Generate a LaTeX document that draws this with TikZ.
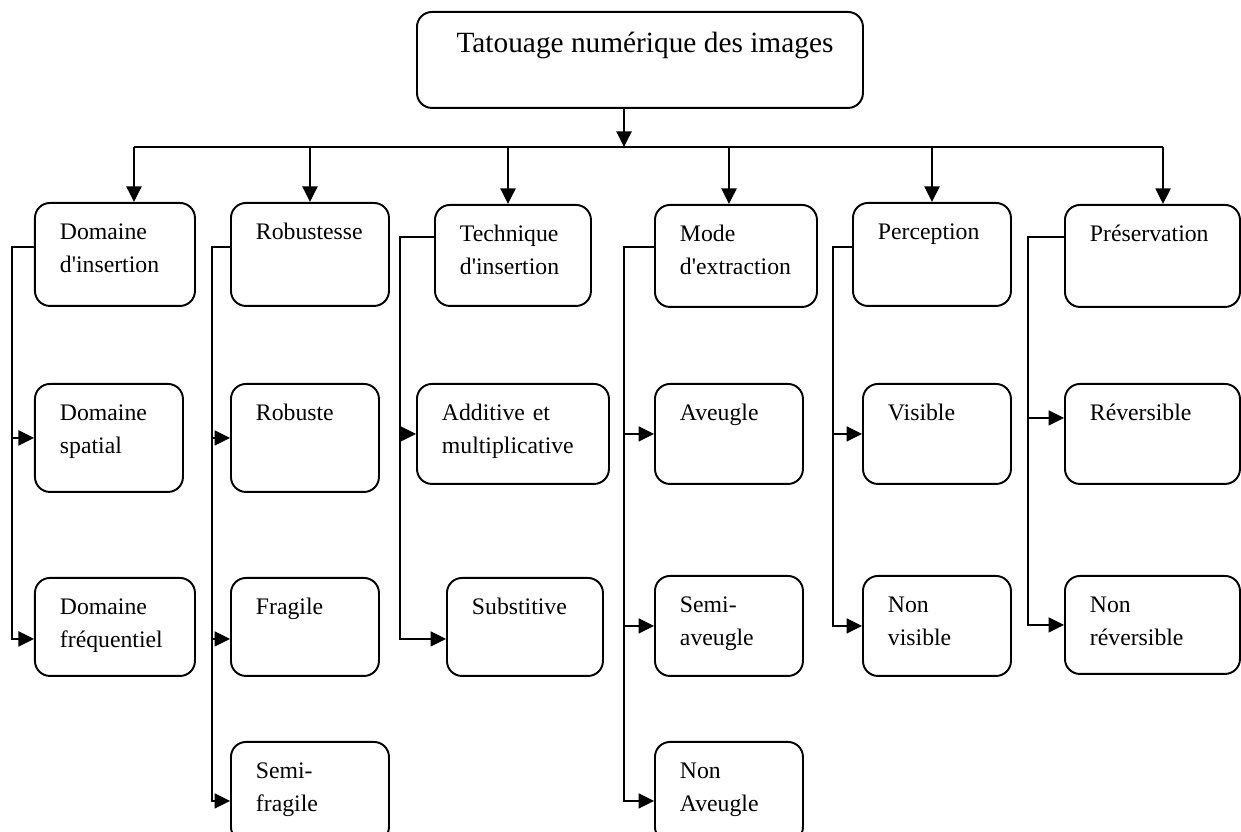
\documentclass[tikz,border=0pt]{standalone}
\usepackage{fontspec}
\setmainfont{Liberation Serif}
\usepackage{tikz}
\usetikzlibrary{arrows.meta}

\newcommand{\boxfont}{\fontsize{13.5}{18.5}\selectfont\hyphenpenalty=10000}
\newcommand{\titlefont}{\fontsize{16.7}{19}\selectfont}
\newcommand{\qs}{\textquotesingle}

\begin{document}
\begin{tikzpicture}[
    catbox/.style={draw,line width=1.1pt,rounded corners=0.3cm,anchor=north west,
      align=left,inner xsep=0.5cm,inner ysep=0.2cm,text height=0.54cm,font=\boxfont},
    cat/.style 2 args={catbox,text width=#1,text depth=#2},
    root/.style={draw,line width=1.1pt,rounded corners=0.3cm,anchor=north west,
      minimum width=8.92cm,inner ysep=0.2cm,text height=0.62cm,text depth=0.9cm,
      font=\titlefont},
    link/.style={line width=1.1pt},
    >={Triangle[length=0.31cm,width=0.3cm]}]

  \useasboundingbox (0,0) rectangle (24.82,-16.64);

  % --- ROOT ---
  \node[root] (root) at (8.32,-0.22) {\hspace*{0.2cm}Tatouage numérique des images};

  % --- FIRST ROW: criteria ---
  \node[cat={2.2cm}{1.12cm}]  (dom) at (0.68,-4.04)  {Domaine\\d\qs insertion};
  \node[cat={2.16cm}{1.12cm}] (rob) at (4.60,-4.04)  {Robustesse};
  \node[cat={2.12cm}{1.08cm}] (tec) at (8.68,-4.08)  {Technique\\d\qs insertion};
  \node[cat={2.24cm}{1.10cm}] (mod) at (13.08,-4.08) {Mode\\d\qs extraction};
  \node[cat={2.16cm}{1.12cm}] (per) at (17.04,-4.04) {Perception};
  \node[cat={2.5cm}{1.10cm}]  (pre) at (21.28,-4.08) {Préservation};

  % --- SECOND ROW ---
  \node[cat={1.96cm}{1.22cm}] (spa) at (0.68,-7.66)  {Domaine\\spatial};
  \node[cat={1.96cm}{1.22cm}] (rbs) at (4.60,-7.66)  {Robuste};
  \node[cat={2.84cm}{1.06cm}] (add) at (8.32,-7.66)  {Additive et\\multiplicative};
  \node[cat={1.96cm}{1.06cm}] (ave) at (13.08,-7.66) {Aveugle};
  \node[cat={1.96cm}{1.06cm}] (vis) at (17.24,-7.66) {Visible};
  \node[cat={2.5cm}{1.06cm}]  (rev) at (21.28,-7.66) {Réversible};

  % --- THIRD ROW ---
  \node[cat={2.2cm}{1.02cm}]  (fre) at (0.68,-11.54)  {Domaine\\fréquentiel};
  \node[cat={1.96cm}{1.02cm}] (fra) at (4.60,-11.54)  {Fragile};
  \node[cat={2.12cm}{1.02cm}] (sub) at (8.92,-11.54)  {Substitive};
  \node[cat={1.96cm}{1.06cm}] (sav) at (13.08,-11.50) {Semi-\\aveugle};
  \node[cat={1.96cm}{1.06cm}] (nvi) at (17.24,-11.50) {Non\\visible};
  \node[cat={2.5cm}{1.02cm}]  (nrv) at (21.28,-11.50) {Non\\réversible};

  % --- FOURTH ROW ---
  \node[cat={2.16cm}{1.06cm}] (sfr) at (4.60,-14.82)  {Semi-\\fragile};
  \node[cat={1.96cm}{1.06cm}] (nav) at (13.08,-14.82) {Non\\Aveugle};

  % --- root to criteria ---
  \coordinate (hub) at (12.48,-2.94);
  \coordinate (busW) at (2.68,-2.94);
  \coordinate (busE) at (23.26,-2.94);
  \draw[link,->] (root.south -| hub) -- (hub);
  \draw[link] (busW) -- (busE);
  \foreach \n/\x in {dom/2.68, rob/6.20, tec/10.16, mod/14.58, per/18.64, pre/23.26}
    \draw[link,->] (busW -| \x,0) -- (\n.north -| \x,0);

  % --- criteria to classes ---
  \coordinate (spA) at (0.24,-4.94);
  \coordinate (spB) at (4.24,-4.94);
  \coordinate (spC) at (8.00,-4.74);
  \coordinate (spD) at (12.48,-4.94);
  \coordinate (spE) at (16.66,-4.94);
  \coordinate (spF) at (20.56,-4.74);
  \coordinate (freIn) at ([yshift=-0.24cm]fre.west);
  \coordinate (fraIn) at ([yshift=-0.24cm]fra.west);
  \coordinate (subIn) at ([yshift=-0.24cm]sub.west);
  \coordinate (sfrIn) at ([yshift=-0.18cm]sfr.west);
  \coordinate (navIn) at ([yshift=-0.18cm]nav.west);
  \coordinate (revIn) at ([yshift=0.32cm]rev.west);

  \draw[link,->] (dom.west |- spA) -- (spA) |- (freIn);
  \draw[link,->] (spA |- spa.west) -- (spa.west);

  \draw[link,->] (rob.west |- spB) -- (spB) |- (sfrIn);
  \draw[link,->] (spB |- rbs.west) -- (rbs.west);
  \draw[link,->] (spB |- fraIn) -- (fraIn);

  \draw[link,->] (tec.west |- spC) -- (spC) |- (subIn);
  \draw[link,->] (spC |- add.west) -- (add.west);

  \draw[link,->] (mod.west |- spD) -- (spD) |- (navIn);
  \draw[link,->] (spD |- ave.west) -- (ave.west);
  \draw[link,->] (spD |- sav.west) -- (sav.west);

  \draw[link,->] (per.west |- spE) -- (spE) |- (nvi.west);
  \draw[link,->] (spE |- vis.west) -- (vis.west);

  \draw[link,->] (pre.west |- spF) -- (spF) |- (nrv.west);
  \draw[link,->] (spF |- revIn) -- (revIn);

\end{tikzpicture}
\end{document}
